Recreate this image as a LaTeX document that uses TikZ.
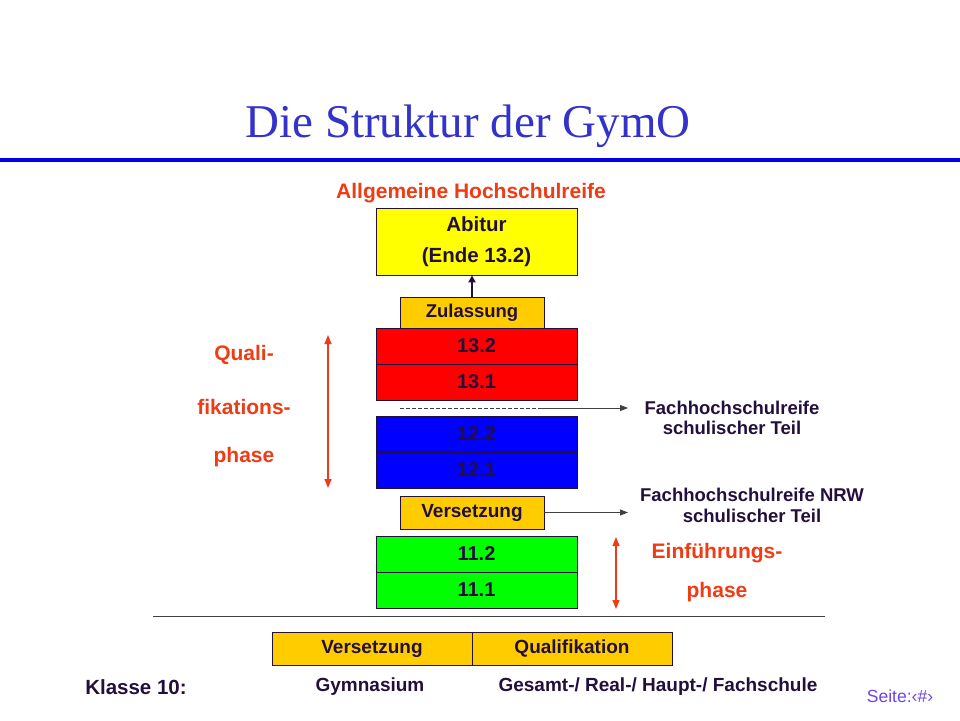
\documentclass[tikz,border=0pt]{standalone}
\usepackage{fontspec}
\setmainfont{Liberation Sans}
\newfontfamily\titlefont{Liberation Serif}
\usetikzlibrary{arrows.meta}
\definecolor{txt}{RGB}{35,15,60}
\definecolor{ored}{RGB}{240,60,20}
\definecolor{ttlblue}{RGB}{51,51,204}
\definecolor{lineblue}{RGB}{0,0,230}
\definecolor{boxyellow}{RGB}{255,255,0}
\definecolor{boxorange}{RGB}{255,204,0}
\definecolor{boxred}{RGB}{255,0,0}
\definecolor{boxblue}{RGB}{0,0,255}
\definecolor{boxgreen}{RGB}{0,255,0}
\definecolor{arrgray}{RGB}{64,64,64}
\definecolor{seite}{RGB}{110,70,230}
\tikzset{
  sbox/.style={draw=txt, line width=0.8pt, inner sep=0pt, text=txt,
    font=\fontsize{19}{22}\selectfont\bfseries},
  wbox/.style={sbox, minimum width=201pt, minimum height=36pt, font=\fontsize{20}{22}\selectfont\bfseries},
  nbox/.style={sbox, fill=boxorange, minimum width=144pt, minimum height=31pt},
  bbox/.style={sbox, fill=boxorange, minimum width=200pt, minimum height=33pt},
  olabel/.style={text=ored, inner sep=0pt, font=\fontsize{21}{24}\selectfont\bfseries},
  dlabel/.style={text=txt, inner sep=0pt, align=center, font=\fontsize{18.5}{20.5}\selectfont\bfseries},
  klabel/.style={text=txt, inner sep=0pt, font=\fontsize{19}{22}\selectfont\bfseries},
  grayarrow/.style={arrgray, line width=0.8pt, -{Triangle[length=8pt,width=6pt]}},
  redarrow/.style={ored, line width=1.2pt, {Triangle[length=9pt,width=7pt]}-{Triangle[length=9pt,width=7pt]}},
}
\begin{document}
\begin{tikzpicture}[x=1pt,y=-1pt]
\useasboundingbox (0,0) rectangle (960,720);
\fill[white] (0,0) rectangle (960,720);

% title
\node[text=ttlblue, inner sep=0pt, anchor=base, font=\titlefont\fontsize{47}{50}\selectfont] (title) at (468,137) {Die Struktur der GymO};
\draw[lineblue, line width=4pt] (0,159.5) coordinate (bl1) -- (960,159.5) coordinate (bl2);

% top label
\node[olabel] (ahr) at (471,193) {Allgemeine Hochschulreife};

% Abitur
\node[wbox, fill=boxyellow, minimum height=67pt, align=center,
      font=\fontsize{20.5}{31}\selectfont\bfseries] (abitur) at (476.5,241.5) {Abitur\\(Ende 13.2)};

% Zulassung
\node[nbox, font=\fontsize{18.5}{22}\selectfont\bfseries] (zul) at (472,312.5) {Zulassung};
\draw[txt, line width=2pt, -{Triangle[length=7pt,width=7pt]}] (zul.north) -- (zul.north |- abitur.south);

% 13
\node[wbox, fill=boxred] (k132) at (476.5,346) {13.2};
\node[wbox, fill=boxred] (k131) at (476.5,382) {13.1};

% dashed line + arrow
\coordinate (d1) at (400,408);
\coordinate (d2) at (540,408);
\coordinate (d3) at (628,408);
\draw[arrgray, line width=0.8pt, dash pattern=on 3.5pt off 2.5pt] (d1) -- (d2);
\draw[grayarrow] (d2) -- (d3);
\node[dlabel] (fh1) at (732,418) {Fachhochschulreife\\schulischer Teil};

% 12
\node[wbox, fill=boxblue] (k122) at (476.5,434) {12.2};
\node[wbox, fill=boxblue] (k121) at (476.5,470) {12.1};

% Versetzung
\node[nbox, minimum height=33pt] (vers) at (472,512.5) {Versetzung};
\coordinate (v3) at (628,512.5);
\draw[grayarrow] (vers.east) -- (v3);
\node[dlabel, font=\fontsize{18.5}{21}\selectfont\bfseries] (fh2) at (752,505.5) {Fachhochschulreife NRW\\schulischer Teil};

% 11
\node[wbox, fill=boxgreen] (k112) at (476.5,554) {11.2};
\node[wbox, fill=boxgreen] (k111) at (476.5,590) {11.1};

% left phase label
\coordinate (la1) at (328,335);
\coordinate (la2) at (328,488);
\draw[redarrow] (la1) -- (la2);
\node[olabel] (q1) at (244,355) {Quali-};
\node[olabel] (q2) at (244,407) {fikations-};
\node[olabel] (q3) at (244,457) {phase};

% right phase label
\coordinate (ra1) at (616,537);
\coordinate (ra2) at (616,609);
\draw[redarrow] (ra1) -- (ra2);
\node[olabel] (e1) at (717,553) {Einführungs-};
\node[olabel] (e2) at (717,592) {phase};

% separator
\coordinate (s1) at (153,616);
\coordinate (s2) at (825,616);
\draw[arrgray, line width=1pt] (s1) -- (s2);

% bottom boxes
\node[bbox] (bv) at (372,648.5) {Versetzung};
\node[bbox] (bq) at (572,648.5) {Qualifikation};

% bottom texts
\node[klabel, font=\fontsize{20.5}{22}\selectfont\bfseries] (kl) at (136,687) {Klasse 10:};
\node[klabel] (gy) at (370,687) {Gymnasium};
\node[klabel] (gs) at (658,687) {Gesamt-/ Real-/ Haupt-/ Fachschule};
\node[text=seite, inner sep=0pt, font=\fontsize{17.5}{20}\selectfont] (se) at (900,696) {Seite:‹\#›};
\end{tikzpicture}
\end{document}
